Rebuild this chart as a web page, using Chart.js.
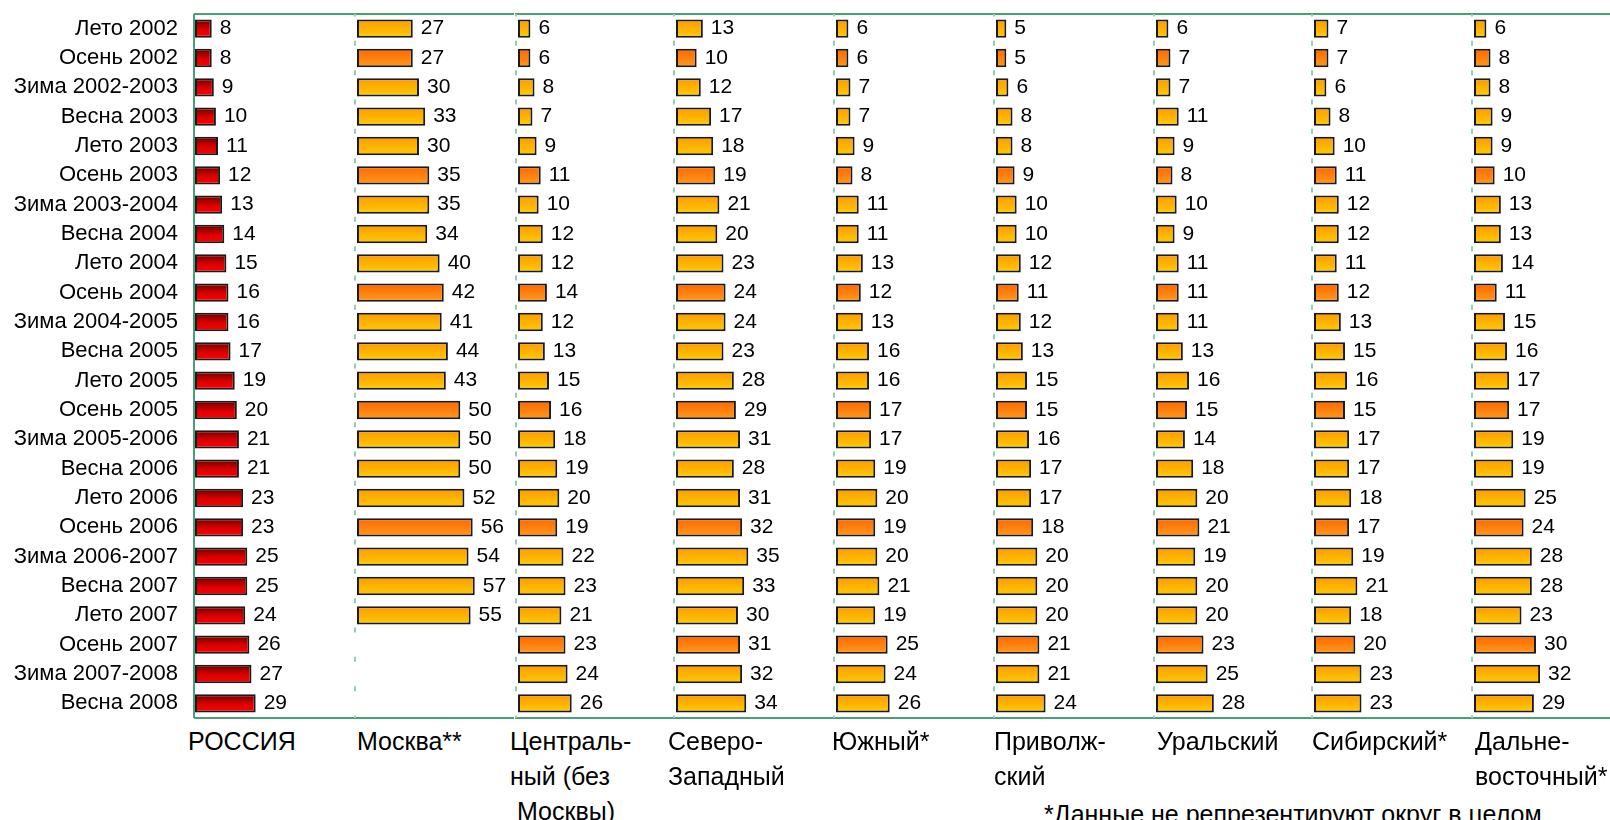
<!DOCTYPE html>
<html lang="ru">
<head>
<meta charset="utf-8">
<script src="https://cdn.jsdelivr.net/npm/chart.js@4.4.1/dist/chart.umd.min.js"></script>
<style>
    html, body { margin: 0; padding: 0; background: #fff; width: 1610px; height: 820px; overflow: hidden; }
    #wrap { position: relative; width: 1610px; height: 820px; }
    .panel { position: absolute; top: 0; height: 720px; }
    .title {
        position: absolute;
        font-family: "Liberation Sans", Arial, sans-serif;
        font-size: 25px;
        line-height: 35px;
        color: #000;
        white-space: pre;
    }
</style>
</head>
<body>
<div id="wrap"></div>
<script>
const seasons = [
    "Лето 2002", "Осень 2002", "Зима 2002-2003", "Весна 2003", "Лето 2003", "Осень 2003",
    "Зима 2003-2004", "Весна 2004", "Лето 2004", "Осень 2004", "Зима 2004-2005", "Весна 2005",
    "Лето 2005", "Осень 2005", "Зима 2005-2006", "Весна 2006", "Лето 2006", "Осень 2006",
    "Зима 2006-2007", "Весна 2007", "Лето 2007", "Осень 2007", "Зима 2007-2008", "Весна 2008"
]

const russia      = [8, 8, 9, 10, 11, 12, 13, 14, 15, 16, 16, 17, 19, 20, 21, 21, 23, 23, 25, 25, 24, 26, 27, 29]
const moscow      = [27, 27, 30, 33, 30, 35, 35, 34, 40, 42, 41, 44, 43, 50, 50, 50, 52, 56, 54, 57, 55, null, null, null]
const central     = [6, 6, 8, 7, 9, 11, 10, 12, 12, 14, 12, 13, 15, 16, 18, 19, 20, 19, 22, 23, 21, 23, 24, 26]
const northWest   = [13, 10, 12, 17, 18, 19, 21, 20, 23, 24, 24, 23, 28, 29, 31, 28, 31, 32, 35, 33, 30, 31, 32, 34]
const south       = [6, 6, 7, 7, 9, 8, 11, 11, 13, 12, 13, 16, 16, 17, 17, 19, 20, 19, 20, 21, 19, 25, 24, 26]
const volga       = [5, 5, 6, 8, 8, 9, 10, 10, 12, 11, 12, 13, 15, 15, 16, 17, 17, 18, 20, 20, 20, 21, 21, 24]
const ural        = [6, 7, 7, 11, 9, 8, 10, 9, 11, 11, 11, 13, 16, 15, 14, 18, 20, 21, 19, 20, 20, 23, 25, 28]
const siberia     = [7, 7, 6, 8, 10, 11, 12, 12, 11, 12, 13, 15, 16, 15, 17, 17, 18, 17, 19, 21, 18, 20, 23, 23]
const farEast     = [6, 8, 8, 9, 9, 10, 13, 13, 14, 11, 15, 16, 17, 17, 19, 19, 25, 24, 28, 28, 23, 30, 32, 29]

const regionNames = [
    "РОССИЯ", "Москва**", "Централь-\nный (без\n Москвы)", "Северо-\nЗападный", "Южный*",
    "Приволж-\nский", "Уральский", "Сибирский*", "Дальне-\nвосточный*"
]
const footnote = "*Данные не репрезентируют округ в целом"

const regionValues = [russia, moscow, central, northWest, south, volga, ural, siberia, farEast]

// layout (px)
const panelLeft = [0, 354, 515, 673, 833, 993, 1153, 1311, 1471]
const titleX = [188, 357, 510, 668, 832, 994, 1157, 1312, 1475]
const FONT = '"Liberation Sans", Arial, sans-serif'
const BAR_PCT = 0.78, CAT_PCT = 0.8

const gradRussia = [[0, "#6a0000"], [0.55, "#dd0000"], [1, "#ff0000"]]
const gradYellow = [[0, "#ff9900"], [1, "#ffcc00"]]
const gradOrange = [[0, "#ff6600"], [1, "#ff9a1a"]]

function barFill(panelIndex) {
    return function (c) {
        let stops = panelIndex == 0 ? gradRussia : gradYellow
        if (panelIndex != 0 && c.type == "data" && seasons[c.dataIndex].startsWith("Осень")) stops = gradOrange
        const chart = c.chart
        if (c.type != "data" || !chart.chartArea || !chart.scales.y) return stops[stops.length - 1][1]
        const pitch = (chart.chartArea.bottom - chart.chartArea.top) / seasons.length
        const half = pitch * BAR_PCT * CAT_PCT / 2
        const y = chart.scales.y.getPixelForValue(c.dataIndex)
        const g = chart.ctx.createLinearGradient(0, y - half, 0, y + half)
        stops.forEach(s => g.addColorStop(s[0], s[1]))
        return g
    }
}

const framePlugin = {
    id: "frame",
    beforeDatasetsDraw(chart, args, opts) {
        const ctx = chart.ctx
        const a = chart.chartArea
        ctx.save()
        ctx.strokeStyle = "#4a9e78"
        ctx.lineWidth = 2
        const x0 = opts.first ? a.left - 1 : 0
        ctx.beginPath()
        ctx.moveTo(x0, a.top); ctx.lineTo(chart.width, a.top)
        ctx.moveTo(x0, a.bottom); ctx.lineTo(chart.width, a.bottom)
        ctx.stroke()
        if (opts.first) {
            ctx.beginPath()
            ctx.moveTo(a.left - 1, a.top); ctx.lineTo(a.left - 1, a.bottom)
            ctx.stroke()
        } else {
            const pitch = (a.bottom - a.top) / seasons.length
            ctx.strokeStyle = "#8fcfb2"
            ctx.setLineDash([5, pitch - 5])
            ctx.lineDashOffset = 2.5
            ctx.beginPath()
            ctx.moveTo(1, a.top); ctx.lineTo(1, a.bottom)
            ctx.stroke()
        }
        ctx.restore()
    }
}

const valuePlugin = {
    id: "values",
    afterDatasetsDraw(chart) {
        const ctx = chart.ctx
        const values = chart.data.datasets[0].data
        ctx.save()
        ctx.font = "21px " + FONT
        ctx.fillStyle = "#000"
        ctx.textBaseline = "middle"
        chart.getDatasetMeta(0).data.forEach((bar, j) => {
            if (values[j] == null) return
            ctx.fillText(values[j], bar.x + 8, bar.y)
        })
        ctx.restore()
    }
}

function createPanel(i) {
    const wrap = document.getElementById("wrap")
    const div = document.createElement("div")
    div.className = "panel"
    div.style.left = panelLeft[i] + "px"
    div.style.width = (i == 0 ? panelLeft[1] : 160) + "px"
    const canvas = document.createElement("canvas")
    div.appendChild(canvas)
    wrap.appendChild(div)

    let yAxis = { display: false }
    if (i == 0) {
        yAxis = {
            display: true,
            grid: { display: false, drawTicks: false },
            border: { display: false },
            ticks: { color: "#000", font: { family: FONT, size: 22 }, padding: 17, autoSkip: false },
            afterFit: s => { s.width = 195; s.paddingTop = 0; s.paddingBottom = 0 }
        }
    }

    new Chart(canvas, {
        type: "bar",
        data: {
            labels: seasons,
            datasets: [{
                data: regionValues[i],
                backgroundColor: barFill(i),
                borderColor: "#1a1a1a",
                borderWidth: 2,
                borderSkipped: false,
                barPercentage: BAR_PCT,
                categoryPercentage: CAT_PCT
            }]
        },
        options: {
            indexAxis: "y",
            responsive: true,
            maintainAspectRatio: false,
            animation: false,
            layout: { padding: { top: 14, bottom: 2, left: i == 0 ? 0 : 3, right: 0 } },
            plugins: {
                legend: { display: false },
                tooltip: { enabled: false },
                frame: { first: i == 0 }
            },
            scales: {
                x: { display: false, min: 0, max: 76 },
                y: yAxis
            }
        },
        plugins: [framePlugin, valuePlugin]
    })

    const t = document.createElement("div")
    t.className = "title"
    t.style.left = titleX[i] + "px"
    t.style.top = "724px"
    t.textContent = regionNames[i]
    wrap.appendChild(t)
}

for (let i = 0; i < regionValues.length; i++) createPanel(i)

const note = document.createElement("div")
note.className = "title"
note.style.left = "1044px"
note.style.top = "797px"
note.textContent = footnote
document.getElementById("wrap").appendChild(note)
</script>
</body>
</html>
